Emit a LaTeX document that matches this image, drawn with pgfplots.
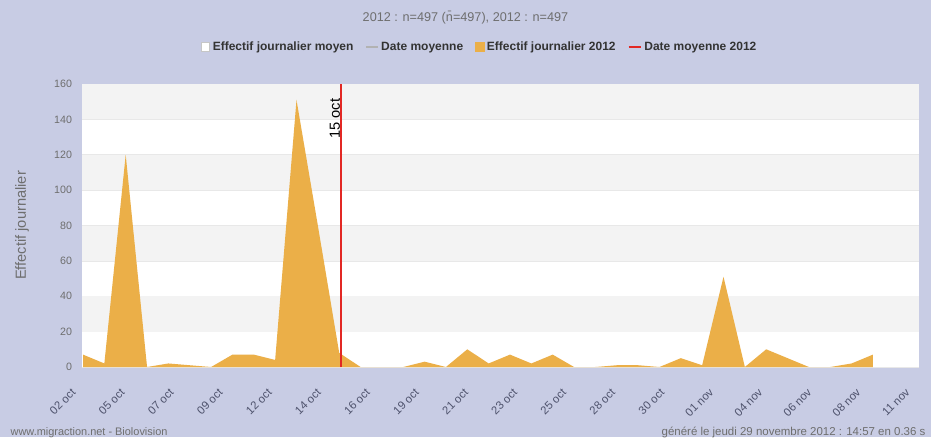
\documentclass[border=0pt]{standalone}
\usepackage{pgfplots}
\pgfplotsset{compat=1.18}
\usepackage{pgfplotstable}
\usepackage{fontspec}
\setmainfont{Liberation Sans}
\definecolor{bgl}{RGB}{200,204,228}
\definecolor{band}{RGB}{243,243,243}
\definecolor{gridc}{RGB}{232,232,232}
\definecolor{areac}{RGB}{235,175,72}
\definecolor{redl}{RGB}{226,40,36}
\definecolor{txtg}{RGB}{110,110,110}
\definecolor{legt}{RGB}{51,51,51}
\definecolor{xlab}{RGB}{78,82,108}

% day 1 = 03 oct 2012 ... day 38 = 09 nov 2012
\pgfplotstableread{
day val
1 7
2 2
3 120
4 0
5 2
6 1
7 0
8 7
9 7
10 4
11 151
12 80
13 8
14 0
15 0
16 0
17 3
18 0
19 10
20 2
21 7
22 2
23 7
24 0
25 0
26 1
27 1
28 0
29 5
30 1
31 51
32 0
33 10
34 5
35 0
36 0
37 2
38 7
}\daily

\begin{document}
\begin{tikzpicture}
\begin{scope}[x=0.75pt,y=0.75pt]
\useasboundingbox (0,0) rectangle (931,437);
\fill[bgl] (0,0) rectangle (931,437);
\node[text=txtg, font=\fontsize{9.5}{11}\selectfont] at (465.5,419) {2012 : n=497 (\={n}=497), 2012 : n=497};
\node[text=txtg, font=\fontsize{8.2}{9}\selectfont, anchor=base west] at (6,2) {www.migraction.net - Biolovision};
\node[text=txtg, font=\fontsize{8.6}{9}\selectfont, anchor=base west] at (657,2) {généré le jeudi 29 novembre 2012 : 14:57 en 0.36 s};
\end{scope}
\begin{axis}[
  at={(61.5pt,52.5pt)}, anchor=south west,
  width=627.75pt, height=212.25pt, scale only axis,
  xmin=0.953, xmax=40.157, ymin=0, ymax=160,
  axis background/.style={fill=white},
  axis line style={draw=none},
  tick style={draw=none},
  ytick={0,20,...,160},
  ymajorgrids, grid style={gridc, line width=0.5pt},
  /pgf/number format/assume math mode=true,
  xtick={0.953,3.251,5.549,7.847,10.145,12.443,14.741,17.039,19.337,21.635,23.933,26.231,28.529,30.827,33.125,35.423,37.721,40.019},
  xticklabels={02 oct,05 oct,07 oct,09 oct,12 oct,14 oct,16 oct,19 oct,21 oct,23 oct,25 oct,28 oct,30 oct,01 nov,04 nov,06 nov,08 nov,11 nov},
  xticklabel style={rotate=45, anchor=east, yshift=-8pt, xshift=-13.5pt, font=\fontsize{8.5}{9}\selectfont, text=xlab},
  yticklabel style={xshift=-4pt, font=\fontsize{8}{9}\selectfont, text=txtg},
  every axis y label/.style={at={(axis description cs:-0.0717,0.5)}, rotate=90, anchor=center},
  ylabel={Effectif journalier},
  ylabel style={font=\fontsize{11}{12}\selectfont, text=txtg},
  legend columns=4,
  legend style={at={(axis description cs:0.4755,1.1307)}, anchor=center, draw=none, fill=none,
     font=\fontsize{9}{10}\selectfont\bfseries, text=legt,
     /tikz/every even column/.append style={column sep=7pt},
     /tikz/every odd column/.append style={column sep=0pt}},
  clip=true,
]
\addlegendimage{legend image code/.code={\draw[gray!45,fill=white,line width=0.5pt] (0pt,-3.2pt) rectangle (6.4pt,3.2pt);}}
\addlegendentry{Effectif journalier moyen}
\addlegendimage{legend image code/.code={\draw[gray!60,line width=0.8pt] (0pt,0pt) -- (9pt,0pt);}}
\addlegendentry{Date moyenne}
\addlegendimage{legend image code/.code={\fill[areac] (0pt,-3.2pt) rectangle (6.4pt,3.2pt);}}
\addlegendentry{Effectif journalier 2012}
\addlegendimage{legend image code/.code={\draw[redl,line width=1.5pt] (0pt,0pt) -- (9pt,0pt);}}
\addlegendentry{Date moyenne 2012}

\fill[band] (axis cs:0.953,20) rectangle (axis cs:40.157,40);
\fill[band] (axis cs:0.953,60) rectangle (axis cs:40.157,80);
\fill[band] (axis cs:0.953,100) rectangle (axis cs:40.157,120);
\fill[band] (axis cs:0.953,140) rectangle (axis cs:40.157,160);

\addplot[fill=areac, draw=none, forget plot] table[x=day,y=val]{\daily} \closedcycle;
\addplot[redl, line width=1.2pt, forget plot] coordinates {(13.08,0) (13.08,160)};
\node[rotate=90, anchor=south east, inner sep=0.5pt, xshift=-1pt, font=\fontsize{11}{12}\selectfont] at (axis cs:13.08,153) {15 oct};
\end{axis}
\end{tikzpicture}
\end{document}
